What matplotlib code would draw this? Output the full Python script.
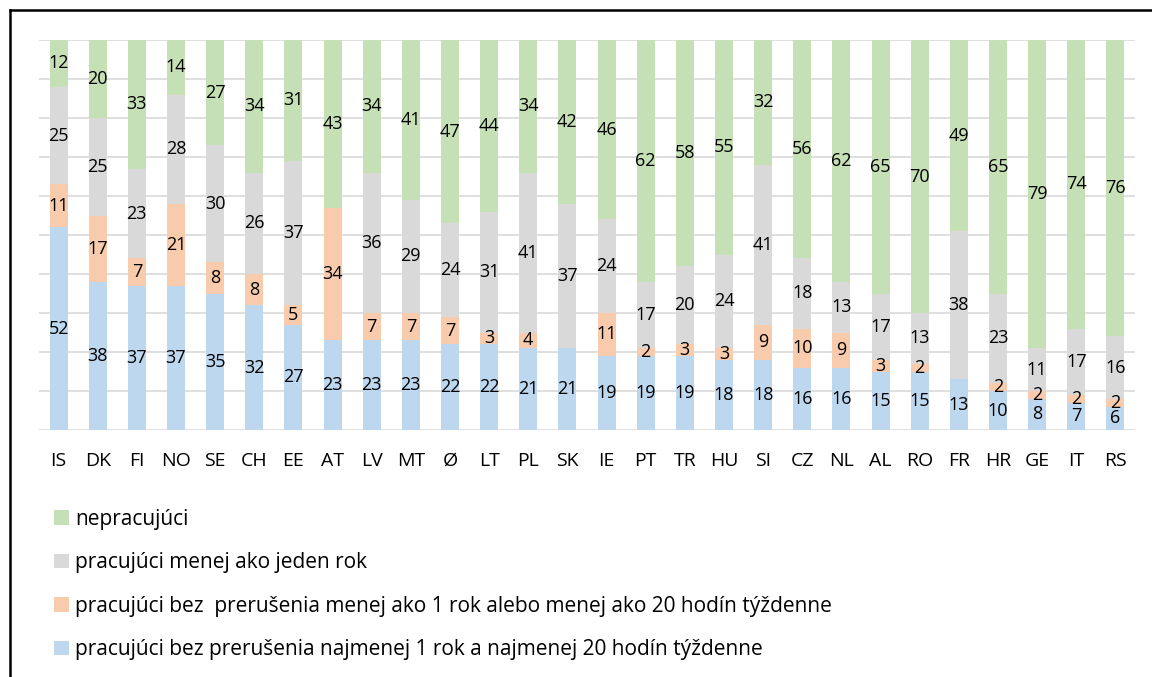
import matplotlib
matplotlib.use("Agg")
import matplotlib.pyplot as plt
from matplotlib.patches import Patch
from matplotlib.lines import Line2D
import numpy as np

# values (percent)
countries = ['IS', 'DK', 'FI', 'NO', 'SE', 'CH', 'EE', 'AT', 'LV', 'MT', 'Ø', 'LT', 'PL', 'SK',
             'IE', 'PT', 'TR', 'HU', 'SI', 'CZ', 'NL', 'AL', 'RO', 'FR', 'HR', 'GE', 'IT', 'RS']
stale = [52, 38, 37, 37, 35, 32, 27, 23, 23, 23, 22, 22, 21, 21,
         19, 19, 19, 18, 18, 16, 16, 15, 15, 13, 10, 8, 7, 6]
kratko = [11, 17, 7, 21, 8, 8, 5, 34, 7, 7, 7, 3, 4, 0,
          11, 2, 3, 3, 9, 10, 9, 3, 2, 0, 2, 2, 2, 2]
menej_rok = [25, 25, 23, 28, 30, 26, 37, 0, 36, 29, 24, 31, 41, 37,
             24, 17, 20, 24, 41, 18, 13, 17, 13, 38, 23, 11, 17, 16]
nepracujuci = [12, 20, 33, 14, 27, 34, 31, 43, 34, 41, 47, 44, 34, 42,
               46, 62, 58, 55, 32, 56, 62, 65, 70, 49, 65, 79, 74, 76]

series = [
    ('pracujúci bez prerušenia najmenej 1 rok a najmenej 20 hodín týždenne', stale, '#BDD7EE'),
    ('pracujúci bez  prerušenia menej ako 1 rok alebo menej ako 20 hodín týždenne', kratko, '#F8CBAD'),
    ('pracujúci menej ako jeden rok', menej_rok, '#D9D9D9'),
    ('nepracujúci', nepracujuci, '#C5E0B4'),
]

plt.rcParams['font.family'] = ['Open Sans', 'DejaVu Sans']

fig = plt.figure(figsize=(11.52, 6.77), dpi=100)
ax = fig.add_axes([39 / 1152, 1 - 430 / 677, 1096 / 1152, 390 / 677])

x = np.arange(len(countries))
bottom = np.zeros(len(countries))
for name, vals, col in series:
    vals = np.array(vals, dtype=float)
    ax.bar(x, vals, 0.46, bottom=bottom, color=col, label=name, zorder=2)
    for xi, b, v in zip(x, bottom, vals):
        if v > 0:
            ax.text(xi, b + v / 2, f'{int(v)}', ha='center', va='center',
                    fontsize=13, color='#000000', zorder=3)
    bottom += vals

ax.set_xlim(-0.5, len(countries) - 0.5)
ax.set_ylim(0, 100)
ax.set_yticks(np.arange(0, 101, 10))
ax.yaxis.grid(True, color='#D9D9D9', linewidth=1.2, zorder=0)
ax.set_axisbelow(True)
ax.tick_params(axis='y', left=False, labelleft=False)
ax.tick_params(axis='x', bottom=False, labelsize=14, pad=12)
ax.set_xticks(x)
ax.set_xticklabels(countries)
for s in ax.spines.values():
    s.set_visible(False)

handles = [Patch(facecolor=c, edgecolor='none', label=n) for n, _, c in series[::-1]]
fig.legend(handles=handles, loc='upper left', bbox_to_anchor=(35 / 1152, 1 - 490 / 677),
           frameon=False, fontsize=15, labelspacing=1.08, handlelength=0.72,
           handleheight=0.67, handletextpad=0.3)

# outer frame (only left and top edges fall inside the image)
fig.add_artist(Line2D([10 / 1152, 10 / 1152], [0, 1 - 10 / 677], color='black', linewidth=1.8,
                      transform=fig.transFigure))
fig.add_artist(Line2D([10 / 1152, 1], [1 - 10 / 677, 1 - 10 / 677], color='black', linewidth=1.8,
                      transform=fig.transFigure))

fig.savefig('out.png', dpi=100)
